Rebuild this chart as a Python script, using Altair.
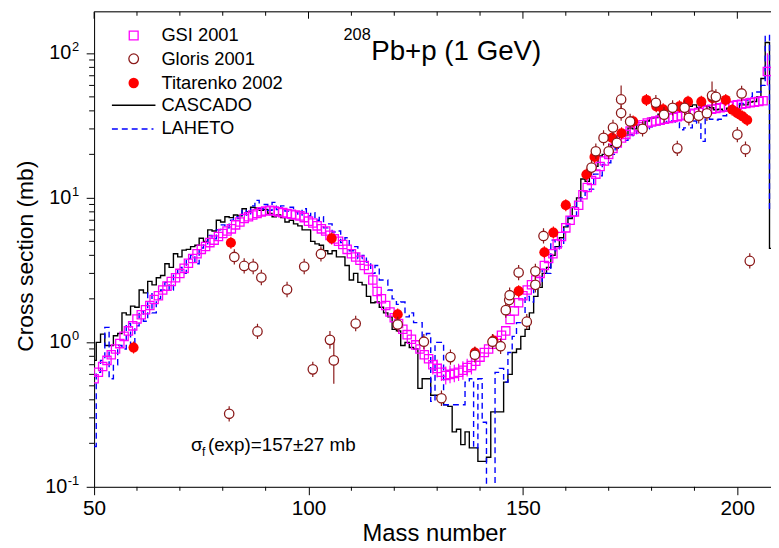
import altair as alt
import pandas as pd

FONT = "Liberation Sans"
W, H = 684, 480
XMIN, XMAX = 50, 207.85
YMIN, YMAX = 0.1, 194

# ---------------- data ----------------
gsi_A = list(range(50, 208))
gsi_v = [
    0.56, 0.62, 0.68, 0.75, 0.82, 0.90, 0.98, 1.10, 1.20, 1.30,
    1.45, 1.55, 1.68, 1.80, 1.98, 2.10, 2.30, 2.45, 2.64, 2.80,
    3.00, 3.25, 3.53, 3.80, 4.10, 4.40, 4.60, 4.90, 5.10, 5.40,
    5.66, 5.90, 6.10, 6.50, 6.80, 7.20, 7.40, 7.60, 7.80, 8.00,
    8.10, 8.20, 8.10, 8.00, 7.90, 7.80, 7.70, 7.60, 7.50, 7.30,
    6.90, 6.70, 6.40, 6.10, 5.90, 5.50, 5.20, 5.00, 4.75, 4.40,
    4.10, 3.90, 3.70, 3.40, 3.20, 2.70, 2.25, 2.00, 1.80, 1.62,
    1.48, 1.35, 1.23, 1.13, 1.05, 0.96, 0.90, 0.82, 0.77, 0.70,
    0.66, 0.62, 0.59, 0.60, 0.61, 0.62, 0.64, 0.67, 0.69, 0.74,
    0.79, 0.85, 0.90, 0.97, 1.03, 1.12, 1.20, 1.44, 1.65, 1.88,
    2.10, 2.30, 2.50, 2.70, 3.00, 3.40, 3.80, 4.10, 4.80, 5.40,
    6.20, 7.00, 8.00, 8.90, 10.5, 11.8, 13.2, 14.6, 16.5, 18.0,
    20.0, 22.0, 24.0, 26.0, 27.5, 29.0, 30.0, 31.0, 32.0, 33.0,
    33.5, 34.0, 34.5, 35.0, 35.5, 36.0, 36.5, 37.0, 37.5, 38.0,
    38.5, 39.0, 40.0, 40.5, 41.0, 41.5, 42.0, 42.5, 43.0, 43.5,
    44.0, 44.5, 45.0, 45.5, 46.0, 46.5, 47.0, 75.0,
]
gsi_err_A = [115, 116, 117, 129, 130, 131, 132, 133, 134, 135, 136, 137, 138, 139, 206, 207]
gsi_err_lo = [2.4, 2.0, 1.78, 0.60, 0.57, 0.54, 0.51, 0.52, 0.53, 0.54, 0.55, 0.58, 0.60, 0.65, 44, 60]
gsi_err_hi = [3.0, 2.5, 2.22, 0.80, 0.76, 0.71, 0.68, 0.69, 0.70, 0.71, 0.74, 0.77, 0.79, 0.84, 50, 100]

gloris_A = [81.5, 82.7, 85.0, 87.1, 88.1, 89.0, 95.0, 99.0, 101.0, 102.9, 105.0, 105.9, 111.0,
            120.8, 126.9, 131.0, 133.1, 138.8, 142.9, 144.8, 146.0, 146.8, 146.9, 149.0, 150.9,
            152.9, 152.9, 154.8, 166.0, 167.0, 168.8, 170.0, 171.0, 171.9, 172.9, 172.9, 175.0,
            177.9, 181.0, 182.9, 184.9, 186.0, 187.7, 188.7, 191.0, 192.9, 194.1, 195.0, 200.0,
            201.0, 201.9, 202.9]
gloris_v = [0.32, 3.9, 3.38, 3.35, 1.19, 2.81, 2.32, 3.35, 0.65, 4.09, 1.04, 0.75, 1.35,
            1.33, 1.01, 0.41, 0.79, 0.82, 1.01, 0.94, 1.67, 1.96, 2.12, 3.04, 1.39,
            2.5, 3.1, 5.45, 16.2, 21.0, 26.0, 21.0, 30.7, 24.0, 48.0, 38.6, 33.8,
            30.0, 45.5, 37.6, 42.0, 22.0, 42.0, 35.8, 37.0, 38.5, 51.0, 50.0, 27.4,
            52.8, 21.7, 3.66]
gloris_err = [0.13, 0.13, 0.13, 0.13, 0.13, 0.13, 0.13, 0.13, 0.13, 0.13, 0.15, 0.45, 0.13,
              0.13, 0.13, 0.13, 0.13, 0.13, 0.13, 0.13, 0.13, 0.13, 0.13, 0.13, 0.13,
              0.13, 0.13, 0.13, 0.13, 0.13, 0.13, 0.13, 0.13, 0.13, 0.25, 0.13, 0.13,
              0.13, 0.13, 0.13, 0.13, 0.13, 0.13, 0.13, 0.13, 0.13, 0.25, 0.13, 0.13,
              0.13, 0.13, 0.13]

tit_A = [59.2, 81.9, 105.4, 120.8, 138.8, 143.1, 149.0, 155.0, 157.1, 160.0, 164.8, 166.7,
         170.8, 173.0, 175.7, 178.8, 181.1, 182.7, 186.5, 188.5, 191.6, 194.2, 197.3, 198.8,
         200.0, 201.2, 202.3]
tit_v = [0.92, 4.89, 5.24, 1.56, 0.85, 1.03, 2.26, 4.2, 5.75, 8.9, 14.5, 19.2,
         26.0, 28.0, 33.8, 47.6, 43.0, 41.0, 43.0, 46.3, 46.3, 49.0, 47.6, 40.7,
         38.6, 36.6, 34.6]
tit_err = 0.1

cas_A = list(range(50, 209))
cas_v = [
    0.75, 1.0, 1.14, 0.95, 0.95, 1.11, 1.15, 1.6, 1.55, 1.78,
    1.75, 2.3, 2.2, 2.64, 2.5, 2.8, 2.9, 3.5, 3.3, 4.1,
    3.9, 4.35, 4.4, 4.6, 4.7, 5.25, 5.0, 6.0, 5.9, 7.0,
    6.8, 7.4, 7.3, 7.6, 7.5, 8.4, 8.0, 8.6, 8.5, 8.2,
    8.3, 7.8, 7.4, 7.6, 7.3, 6.8, 7.0, 6.6, 6.4, 6.0,
    6.0, 5.0, 4.8, 4.7, 4.3, 4.1, 4.3, 3.9, 3.9, 3.4,
    2.7, 3.0, 2.6, 2.5, 2.08, 1.88, 1.9, 1.75, 1.6, 1.5,
    1.23, 1.2, 0.95, 1.0, 0.92, 0.9, 0.48, 0.56, 0.56, 0.43,
    0.43, 0.4, 0.37, 0.36, 0.24, 0.25, 0.196, 0.24, 0.186, 0.186,
    0.15, 0.15, 0.16, 0.33, 0.33, 0.33, 0.53, 0.6, 0.85, 0.9,
    1.1, 1.23, 1.6, 2.08, 2.4, 3.0, 3.3, 4.0, 4.6, 5.3,
    6.3, 7.2, 8.6, 10.0, 13.5, 13.0, 16.2, 16.5, 19.5, 20.0,
    20.0, 23.0, 24.6, 27.4, 27.0, 30.5, 30.0, 32.0, 32.0, 34.0,
    35.7, 36.0, 38.0, 39.6, 40.0, 42.0, 44.0, 43.0, 43.0, 43.0,
    44.0, 42.0, 44.0, 43.0, 42.0, 40.7, 41.0, 40.0, 41.7, 42.0,
    41.0, 44.0, 44.0, 46.0, 46.4, 50.0, 67.0, 119.0, 4.47,
]

lah_A = list(range(50, 209))
lah_v = [
    0.19, 0.62, 0.75, 1.27, 0.56, 0.7, 0.95, 0.9, 1.35, 0.95,
    1.3, 1.65, 1.4, 2.2, 1.6, 2.0, 2.3, 2.6, 2.3, 3.0,
    3.3, 3.0, 3.8, 4.0, 3.5, 4.5, 4.8, 5.5, 5.2, 6.0,
    6.5, 6.2, 7.0, 7.4, 7.2, 8.2, 7.6, 8.8, 9.6, 8.4,
    9.0, 8.2, 9.3, 8.3, 8.8, 8.1, 8.6, 8.0, 7.6, 8.4,
    7.5, 7.9, 7.0, 7.4, 6.2, 6.6, 5.8, 5.9, 4.9, 5.3,
    4.3, 4.6, 3.8, 4.0, 3.6, 3.0, 3.4, 2.7, 2.7, 2.3,
    2.0, 1.83, 1.9, 1.5, 1.6, 1.37, 1.37, 1.1, 1.15, 0.39,
    1.0, 1.0, 0.37, 0.37, 0.37, 0.37, 0.37, 0.53, 0.56, 0.186,
    0.56, 0.28, 0.08, 0.09, 0.62, 0.66, 0.53, 0.85, 1.1, 1.37,
    1.4, 2.08, 1.9, 2.44, 2.5, 3.2, 3.0, 5.1, 4.3, 4.6,
    6.4, 7.4, 7.5, 9.5, 10.0, 11.0, 11.5, 14.6, 14.2, 17.0,
    17.5, 20.0, 22.0, 24.6, 25.0, 27.4, 27.0, 29.0, 30.5, 30.0,
    31.0, 32.0, 32.0, 33.0, 33.8, 34.0, 33.0, 29.6, 30.5, 30.5,
    34.0, 33.0, 24.6, 35.7, 35.0, 34.6, 35.0, 37.0, 39.6, 39.0,
    42.0, 45.0, 47.6, 50.0, 54.0, 54.0, 60.0, 133.0, 8.05,
]

x_major = [50, 100, 150, 200]
x_minor = [60, 70, 80, 90, 110, 120, 130, 140, 160, 170, 180, 190]
y_major = [0.1, 1, 10, 100]
y_minor = [0.2, 0.3, 0.4, 0.5, 0.6, 0.7, 0.8, 0.9, 2, 3, 4, 5, 6, 7, 8, 9,
           20, 30, 40, 50, 60, 70, 80, 90]
y_exp = ["-1", "0", "1", "2"]

legend_labels = ["GSI 2001", "Gloris 2001", "Titarenko 2002", "CASCADO", "LAHETO"]
legend_rows = [24, 47.5, 72, 94.5, 118]

# ---------------- tables ----------------
gsi_df = pd.DataFrame({"A": gsi_A, "v": gsi_v})
gsi_err_df = pd.DataFrame({"A": gsi_err_A, "lo": gsi_err_lo, "hi": gsi_err_hi})
gl_df = pd.DataFrame({"A": gloris_A, "v": gloris_v, "e": gloris_err})
gl_df["lo"] = gl_df["v"] / (1 + gl_df["e"])
gl_df["hi"] = gl_df["v"] * (1 + gl_df["e"])
ti_df = pd.DataFrame({"A": tit_A, "v": tit_v})
ti_df["lo"] = ti_df["v"] / (1 + tit_err)
ti_df["hi"] = ti_df["v"] * (1 + tit_err)
cas_df = pd.DataFrame({"A": cas_A, "v": cas_v})
lah_df = pd.DataFrame({"A": lah_A, "v": lah_v})

xs = alt.Scale(domain=[XMIN, XMAX], nice=False, zero=False)
ys = alt.Scale(type="log", domain=[YMIN, YMAX], nice=False)

x_axis = alt.Axis(values=x_major, tickSize=8, labelFontSize=21, labelPadding=3, title=None,
                  grid=False, domainColor="black", tickColor="black", labelColor="black",
                  labelFont=FONT, labelFlush=False, labelOverlap=False, orient="bottom")
y_axis = alt.Axis(values=y_major, tickSize=8, labels=False, title=None, grid=False,
                  domainColor="black", tickColor="black", orient="left")

X = alt.X("A:Q", scale=xs, axis=x_axis)
Y = alt.Y("v:Q", scale=ys, axis=y_axis)

cas = alt.Chart(cas_df).mark_line(interpolate="step", color="black", strokeWidth=1.4, clip=True).encode(x=X, y=Y)
lah = alt.Chart(lah_df).mark_line(interpolate="step", color="#0000FF", strokeWidth=1.4,
                                  strokeDash=[6, 4], clip=True).encode(x=X, y=Y)

gsi_eb = alt.Chart(gsi_err_df).mark_rule(color="#FF00FF", strokeWidth=1.2, clip=True).encode(
    x=X, y=alt.Y("lo:Q", scale=ys, axis=y_axis), y2="hi:Q")
gsi = alt.Chart(gsi_df).mark_point(shape="square", size=70, filled=False, color="#FF00FF",
                                   strokeWidth=1.3, opacity=1, clip=True).encode(x=X, y=Y)

ti_eb = alt.Chart(ti_df).mark_rule(color="#FF0000", strokeWidth=1.2, clip=True).encode(
    x=X, y=alt.Y("lo:Q", scale=ys, axis=y_axis), y2="hi:Q")
ti = alt.Chart(ti_df).mark_circle(size=105, color="#FF0000", opacity=1, clip=True).encode(x=X, y=Y)

gl_eb = alt.Chart(gl_df).mark_rule(color="#8B1A1A", strokeWidth=1.2, clip=True).encode(
    x=X, y=alt.Y("lo:Q", scale=ys, axis=y_axis), y2="hi:Q")
gl = alt.Chart(gl_df).mark_point(shape="circle", size=90, filled=True, fill="white",
                                 stroke="#8B1A1A", strokeWidth=1.3, opacity=1, clip=True).encode(x=X, y=Y)

# ---------------- frame ticks ----------------
xmin_df = pd.DataFrame({"A": x_minor})
xmaj_df = pd.DataFrame({"A": x_major})
ymin_df = pd.DataFrame({"v": y_minor})

bot_minor = alt.Chart(xmin_df).mark_rule(color="black").encode(
    x=X, y=alt.value(H), y2=alt.value(H + 4))
top_major = alt.Chart(xmaj_df).mark_rule(color="black").encode(
    x=X, y=alt.value(0), y2=alt.value(7))
top_minor = alt.Chart(xmin_df).mark_rule(color="black").encode(
    x=X, y=alt.value(0), y2=alt.value(4))
one = pd.DataFrame({"k": [0]})
top_line = alt.Chart(one).mark_rule(color="black").encode(
    x=alt.value(0), x2=alt.value(W), y=alt.value(0))
left_minor = alt.Chart(ymin_df).mark_rule(color="black").encode(
    y=Y, x=alt.value(-5), x2=alt.value(0))

# y tick labels 10^n
ylab_df = pd.DataFrame({"v": y_major, "exp": y_exp, "base": ["10"] * 4})
ylab_base_a = alt.Chart(ylab_df[ylab_df["v"] > 0.5]).mark_text(
    align="right", baseline="middle", fontSize=20, font=FONT, color="black").encode(
    y=Y, x=alt.value(-23), text="base:N")
ylab_base_b = alt.Chart(ylab_df[ylab_df["v"] < 0.5]).mark_text(
    align="right", baseline="middle", fontSize=20, font=FONT, color="black").encode(
    y=Y, x=alt.value(-27), text="base:N")
ylab_exp = alt.Chart(ylab_df).mark_text(align="right", baseline="middle", fontSize=13, dy=-6,
                                        font=FONT, color="black").encode(
    y=Y, x=alt.value(-15), text="exp:N")

# axis titles
ytitle = alt.Chart(one).mark_text(text="Cross section (mb)", angle=270, align="center",
                                  baseline="alphabetic", fontSize=23, font=FONT, color="black").encode(
    x=alt.value(-62), y=alt.value(247))
xtitle = alt.Chart(one).mark_text(text="Mass number", align="center", baseline="alphabetic",
                                  fontSize=24, font=FONT, color="black").encode(
    x=alt.value(344), y=alt.value(535))

# chart title
t_sup = alt.Chart(one).mark_text(text="208", align="left", baseline="middle", fontSize=16.5,
                                 font=FONT, color="black").encode(x=alt.value(252), y=alt.value(24))
t_main = alt.Chart(one).mark_text(text="Pb+p (1 GeV)", align="left", baseline="alphabetic",
                                  fontSize=28, font=FONT, color="black").encode(x=alt.value(280), y=alt.value(49))

# annotation
s1 = alt.Chart(one).mark_text(text="σ", align="left", baseline="alphabetic", fontSize=19,
                              font=FONT, color="black").encode(x=alt.value(98), y=alt.value(444))
s2 = alt.Chart(one).mark_text(text="f", align="left", baseline="alphabetic", fontSize=12,
                              font=FONT, color="black").encode(x=alt.value(109), y=alt.value(449))
s3 = alt.Chart(one).mark_text(text="(exp)=157±27 mb", align="left", baseline="alphabetic",
                              fontSize=19, font=FONT, color="black").encode(x=alt.value(115), y=alt.value(444))

# legend
leg_texts = [
    alt.Chart(one).mark_text(text=lab, align="left", baseline="middle", fontSize=18.5, font=FONT,
                             color="black").encode(x=alt.value(68), y=alt.value(ry))
    for lab, ry in zip(legend_labels, legend_rows)
]
leg_gsi = alt.Chart(one).mark_point(shape="square", size=80, filled=False, color="#FF00FF",
                                    strokeWidth=1.3, opacity=1).encode(x=alt.value(40), y=alt.value(legend_rows[0]))
leg_gl = alt.Chart(one).mark_point(shape="circle", size=95, filled=True, fill="white",
                                   stroke="#8B1A1A", strokeWidth=1.3, opacity=1).encode(x=alt.value(40), y=alt.value(legend_rows[1]))
leg_ti = alt.Chart(one).mark_circle(size=110, color="#FF0000", opacity=1).encode(x=alt.value(40), y=alt.value(legend_rows[2]))
leg_cas = alt.Chart(one).mark_rule(color="black", strokeWidth=1.4).encode(
    x=alt.value(18), x2=alt.value(62), y=alt.value(legend_rows[3]))
leg_lah = alt.Chart(one).mark_rule(color="#0000FF", strokeWidth=1.4, strokeDash=[6, 4]).encode(
    x=alt.value(18), x2=alt.value(60), y=alt.value(legend_rows[4] + 0.5))

chart = alt.layer(
    cas, lah, gsi_eb, gsi, ti_eb, ti, gl_eb, gl,
    bot_minor, top_major, top_minor, top_line, left_minor,
    ylab_base_a, ylab_base_b, ylab_exp, ytitle, xtitle, t_sup, t_main, s1, s2, s3,
    *leg_texts, leg_gsi, leg_gl, leg_ti, leg_cas, leg_lah,
).properties(
    width=W, height=H,
    autosize=alt.AutoSizeParams(type="none"),
    padding={"left": 87, "top": 1, "right": 0, "bottom": 58},
    background="white",
).configure_view(stroke=None).configure(font=FONT)

chart.save("out.html", embed_options={"renderer": "svg", "actions": False})
